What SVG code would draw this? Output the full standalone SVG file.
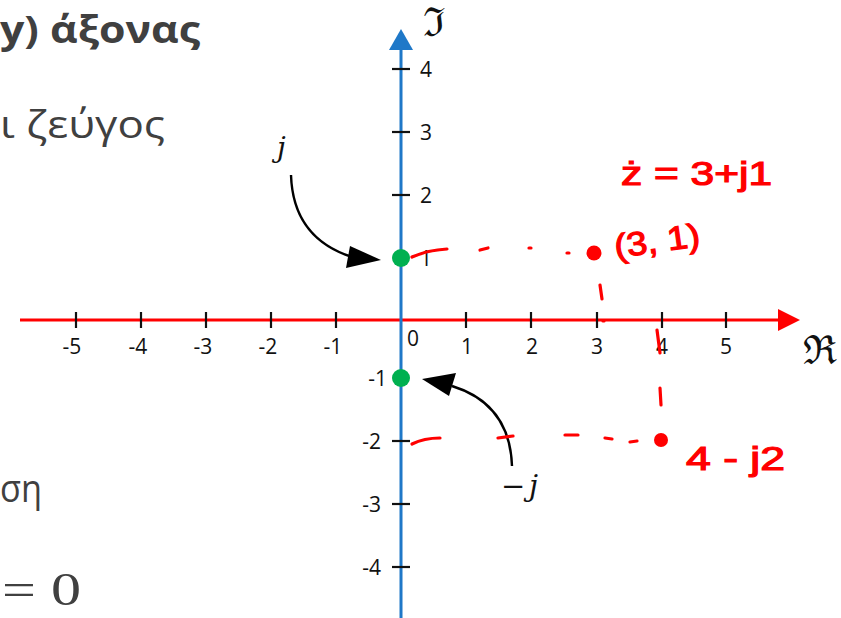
<svg xmlns="http://www.w3.org/2000/svg" width="841" height="618" viewBox="0 0 841 618">
<style>
.slide{font-family:"Open Sans","Noto Sans","Liberation Sans",sans-serif;fill:#404040;font-size:38px}
.num{font-family:"Open Sans","Liberation Sans",sans-serif;font-size:21px;fill:#111}
.tick{stroke:#111;stroke-width:2.2}
.hand{font-family:"Liberation Sans","DejaVu Sans",sans-serif;fill:#ff0000;font-size:33px;stroke:#ff0000;stroke-width:1.2}
.red{stroke:#ff0000;stroke-width:3.2;stroke-linecap:round;fill:none}
.math{font-family:"DejaVu Serif","Liberation Serif",serif;fill:#111}
.arrow{stroke:#000;stroke-width:2.4;fill:none}
</style>
<rect width="841" height="618" fill="#fff"/>
<g id="slide-text">
<text class="slide" x="0" y="43" font-weight="bold" textLength="200" lengthAdjust="spacingAndGlyphs">y) άξονας</text>
<text class="slide" x="0" y="138" textLength="165" lengthAdjust="spacingAndGlyphs">ι ζεύγος</text>
<text class="slide" x="0" y="502" textLength="42" lengthAdjust="spacingAndGlyphs">ση</text>
<text x="2" y="605" font-family="'Liberation Serif','DejaVu Serif',serif" font-size="46" fill="#404040" textLength="79" lengthAdjust="spacingAndGlyphs">= 0</text>
</g>
<g id="real-axis">
<line x1="20" y1="320" x2="782" y2="320" stroke="#ff0000" stroke-width="3"/>
<polygon points="800,320 778,309 778,331" fill="#ff0000"/>
<g class="tick">
<line x1="76" y1="312" x2="76" y2="328"/><line x1="141" y1="312" x2="141" y2="328"/>
<line x1="206" y1="312" x2="206" y2="328"/><line x1="271" y1="312" x2="271" y2="328"/>
<line x1="336" y1="312" x2="336" y2="328"/><line x1="466" y1="312" x2="466" y2="328"/>
<line x1="531" y1="312" x2="531" y2="328"/><line x1="597" y1="312" x2="597" y2="328"/>
<line x1="662" y1="312" x2="662" y2="328"/><line x1="726" y1="312" x2="726" y2="328"/>
</g>
<g class="num" text-anchor="middle">
<text x="72" y="354">-5</text><text x="138" y="354">-4</text><text x="203" y="354">-3</text>
<text x="268" y="354">-2</text><text x="333" y="354">-1</text>
<text x="413" y="346">0</text>
<text x="467" y="354">1</text><text x="532" y="354">2</text><text x="597" y="354">3</text>
<text x="662" y="354">4</text><text x="726" y="354">5</text>
</g>
<text class="math" x="803" y="364" font-size="40">ℜ</text>
</g>
<g id="imag-axis">
<line x1="401" y1="618" x2="401" y2="48" stroke="#1f78c8" stroke-width="3"/>
<polygon points="401,29 389,50 413,50" fill="#1f78c8"/>
<g class="tick">
<line x1="392" y1="69" x2="410" y2="69"/><line x1="392" y1="132" x2="410" y2="132"/>
<line x1="392" y1="195" x2="410" y2="195"/><line x1="392" y1="441" x2="410" y2="441"/>
<line x1="392" y1="504" x2="410" y2="504"/><line x1="392" y1="567" x2="410" y2="567"/>
</g>
<g class="num">
<text x="420" y="77">4</text><text x="420" y="140">3</text><text x="420" y="203">2</text>
<text x="420" y="266">1</text>
</g>
<g class="num" text-anchor="end">
<text x="387" y="386">-1</text><text x="381" y="449">-2</text>
<text x="381" y="512">-3</text><text x="381" y="575">-4</text>
</g>
<text class="math" x="423" y="36" font-size="40">ℑ</text>
</g>
<g id="point-j">
<circle cx="401" cy="258" r="9" fill="#00b050"/>
<text class="math" x="277" y="157" font-size="28" font-style="italic">j</text>
</g>
<g id="point-minus-j">
<circle cx="401" cy="378" r="9" fill="#00b050"/>
<text class="math" x="501" y="496" font-size="29" font-style="italic" textLength="37" lengthAdjust="spacing">−j</text>
</g>
<g id="point-z1">
<circle cx="594" cy="253" r="7.5" fill="#ff0000"/>
<text class="hand" x="621" y="185" textLength="151" lengthAdjust="spacingAndGlyphs">ż = 3+j1</text>
<text class="hand" x="616" y="258" font-size="40" transform="rotate(-8 616 258)" textLength="86" lengthAdjust="spacingAndGlyphs">(3, 1)</text>
</g>
<g id="point-z2">
<circle cx="661" cy="440" r="7" fill="#ff0000"/>
<text class="hand" x="686" y="470" textLength="99" lengthAdjust="spacingAndGlyphs">4 - j2</text>
</g>
<g id="connectors">
<path class="arrow" d="M291,175 Q293,238 352,257"/>
<polygon points="381,260 350,246 346,268" fill="#000"/>
<path class="arrow" d="M512,466 Q510,404 452,386"/>
<polygon points="422,379 456,373 449,396" fill="#000"/>
<g class="red">
<path d="M412,257 Q428,250 447,249"/>
<path d="M480,250 L488,248"/>
<path d="M529,248 L531,248"/>
<path d="M567,253 L569,253"/>
<path d="M600,285 L602,299"/>
<path d="M603,321 L604,321"/>
<path d="M657,330 L660,353"/>
<path d="M660,388 L661,405"/>
<path d="M412,444 Q424,438 440,438"/>
<path d="M498,438 L513,436"/>
<path d="M565,435 L578,435"/>
<path d="M605,438 L612,439"/>
<path d="M630,442 L637,441"/>
</g>
</g>
</svg>
